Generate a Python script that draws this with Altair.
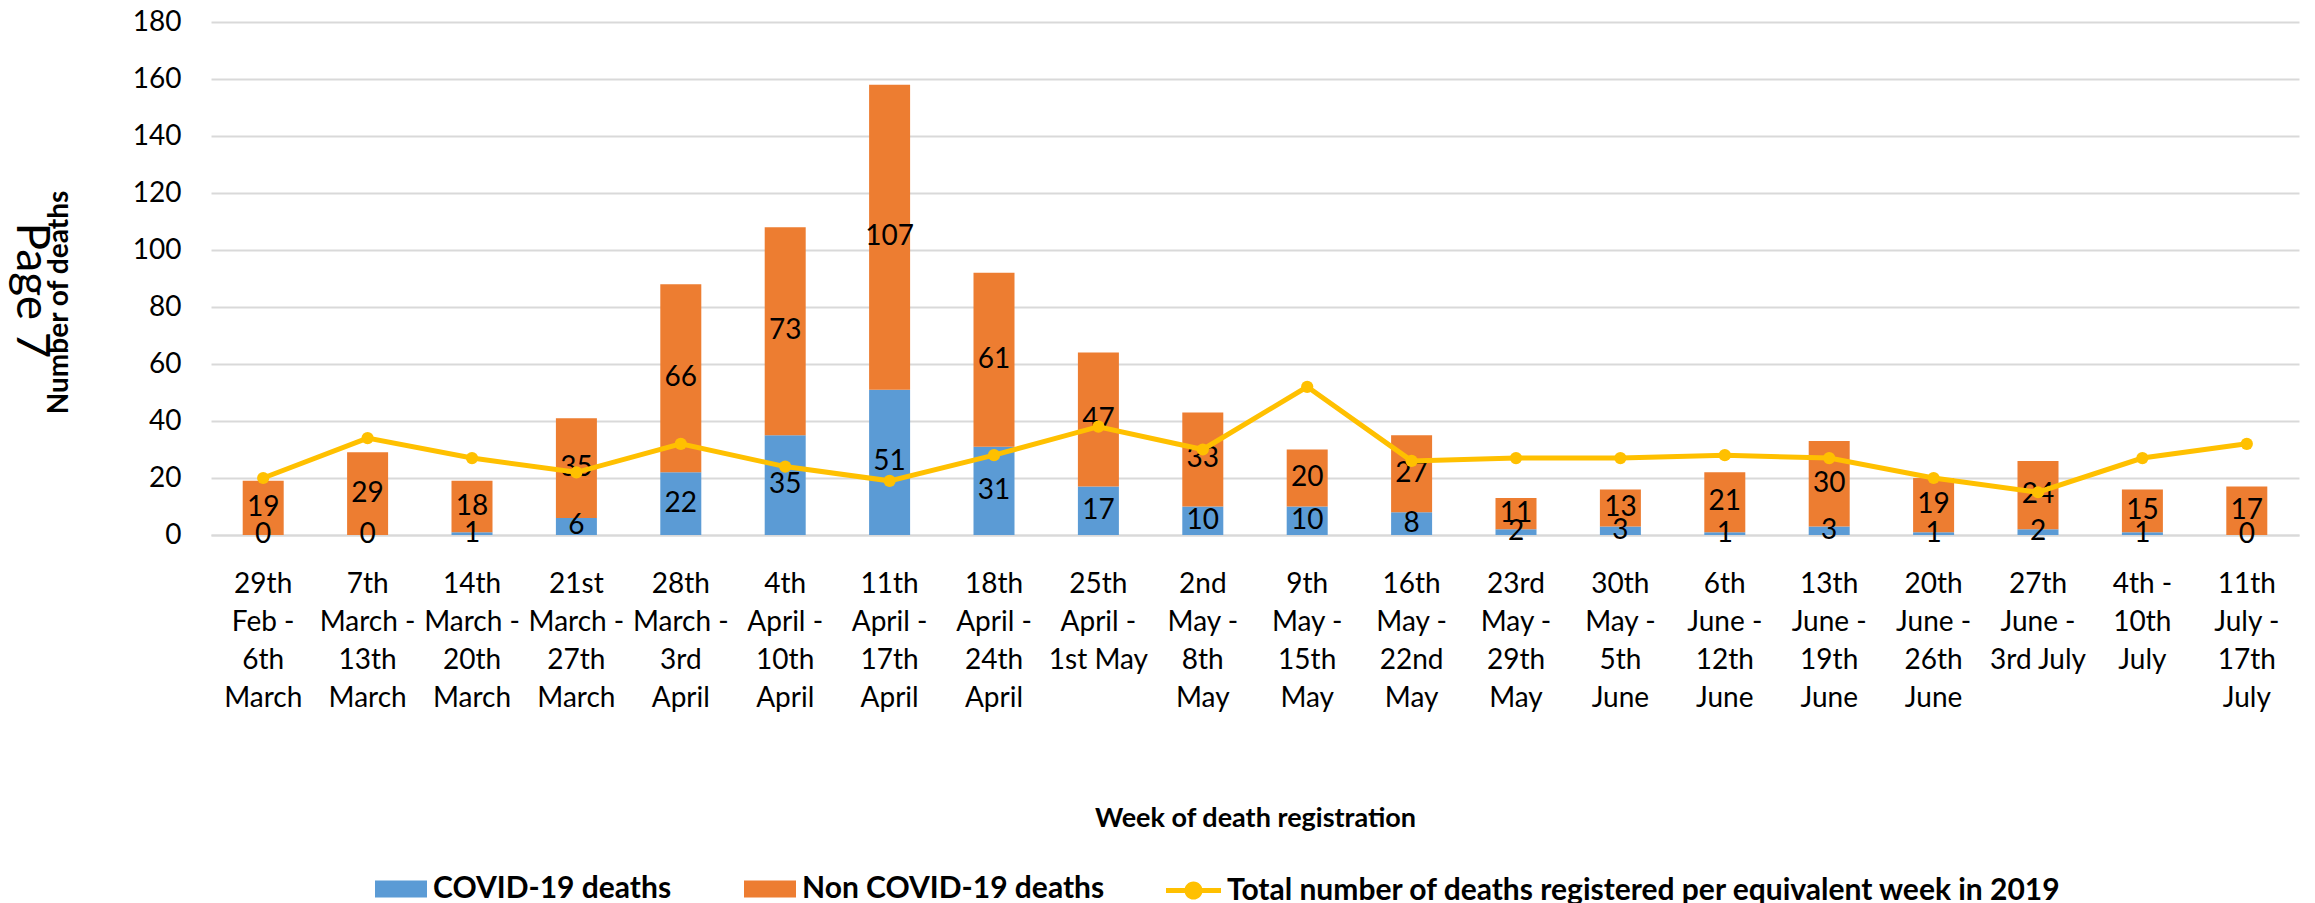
import altair as alt
import pandas as pd

weeks = [
    "29th\nFeb -\n6th\nMarch", "7th\nMarch -\n13th\nMarch", "14th\nMarch -\n20th\nMarch",
    "21st\nMarch -\n27th\nMarch", "28th\nMarch -\n3rd\nApril", "4th\nApril -\n10th\nApril",
    "11th\nApril -\n17th\nApril", "18th\nApril -\n24th\nApril", "25th\nApril -\n1st May",
    "2nd\nMay -\n8th\nMay", "9th\nMay -\n15th\nMay", "16th\nMay -\n22nd\nMay",
    "23rd\nMay -\n29th\nMay", "30th\nMay -\n5th\nJune", "6th\nJune -\n12th\nJune",
    "13th\nJune -\n19th\nJune", "20th\nJune -\n26th\nJune", "27th\nJune -\n3rd July",
    "4th -\n10th\nJuly", "11th\nJuly -\n17th\nJuly",
]
covid = [0, 0, 1, 6, 22, 35, 51, 31, 17, 10, 10, 8, 2, 3, 1, 3, 1, 2, 1, 0]
non_covid = [19, 29, 18, 35, 66, 73, 107, 61, 47, 33, 20, 27, 11, 13, 21, 30, 19, 24, 15, 17]
deaths_2019 = [20, 34, 27, 22, 32, 24, 19, 28, 38, 30, 52, 26, 27, 27, 28, 27, 20, 15, 27, 32]

S_COVID = "COVID-19 deaths"
S_NON = "Non COVID-19 deaths"
S_2019 = "Total number of deaths registered per equivalent week in 2019"

FONT = "Lato, sans-serif"

rows = []
for i, w in enumerate(weeks):
    rows.append({"week": w, "series": S_COVID, "ord": 0, "value": covid[i],
                 "mid": covid[i] / 2})
    rows.append({"week": w, "series": S_NON, "ord": 1, "value": non_covid[i],
                 "mid": covid[i] + non_covid[i] / 2})
bars_df = pd.DataFrame(rows)
line_df = pd.DataFrame({"week": weeks, "v2019": deaths_2019, "lname": [S_2019] * len(weeks)})

x_enc = alt.X(
    "week:N", sort=weeks,
    scale=alt.Scale(paddingInner=0.6, paddingOuter=0.3),
    axis=alt.Axis(
        title="Week of death registration", labelAngle=0, ticks=False,
        labelExpr="split(datum.label, '\\n')", labelLineHeight=38,
        labelFontSize=28, labelPadding=35, labelColor="black",
        titleFontSize=27, titleFontWeight="bold", titlePadding=93, titleColor="black",
        domainColor="#D9D9D9", domainWidth=2, labelFont=FONT, titleFont=FONT,
    ),
)

y_scale = alt.Scale(domain=[0, 180], nice=False)

bar_symbol = "M-1,-0.33 H1 V0.33 H-1 Z"
line_symbol = ("M-1,-0.09 H1 V0.09 H-1 Z "
               "M0.33,0 A0.33,0.33 0 1,1 -0.33,0 A0.33,0.33 0 1,1 0.33,0 Z")

bars = alt.Chart(bars_df).mark_bar(size=41).encode(
    x=x_enc,
    y=alt.Y("value:Q", stack="zero", scale=y_scale,
            axis=alt.Axis(title="Number of deaths", values=list(range(0, 181, 20)),
                          grid=True, gridColor="#D9D9D9", gridWidth=2, domain=False,
                          ticks=False, labelFontSize=28, labelPadding=30, labelColor="black",
                          titleFontSize=28, titleFontWeight="bold", titlePadding=59,
                          titleColor="black", labelFont=FONT, titleFont=FONT, titleY=280)),
    color=alt.Color("series:N", scale=alt.Scale(domain=[S_COVID, S_NON],
                                                range=["#5B9BD5", "#ED7D31"]),
                    legend=alt.Legend(title=None, orient="none", legendX=164, legendY=841,
                                      direction="horizontal", symbolType=bar_symbol,
                                      symbolSize=2704, labelFontSize=30, labelFontWeight="bold",
                                      labelFont=FONT, labelColor="black", columnPadding=72,
                                      labelOffset=6, padding=0, symbolStrokeWidth=0,
                                      symbolOpacity=1)),
    order=alt.Order("ord:Q", sort="ascending"),
)

labels = alt.Chart(bars_df).mark_text(fontSize=28, color="black", font=FONT,
                                      baseline="middle").encode(
    x=alt.X("week:N", sort=weeks),
    y=alt.Y("mid:Q", scale=y_scale),
    text=alt.Text("value:Q"),
)

line = alt.Chart(line_df).mark_line(color="#FFC000", strokeWidth=5).encode(
    x=alt.X("week:N", sort=weeks),
    y=alt.Y("v2019:Q", scale=y_scale),
)

points = alt.Chart(line_df).mark_circle(size=150, opacity=1).encode(
    x=alt.X("week:N", sort=weeks),
    y=alt.Y("v2019:Q", scale=y_scale),
    color=alt.Color("lname:N", scale=alt.Scale(domain=[S_2019], range=["#FFC000"]),
                    legend=alt.Legend(title=None, orient="none", legendX=955, legendY=841,
                                      symbolType=line_symbol, symbolSize=3025,
                                      labelFontSize=30, labelFontWeight="bold",
                                      labelFont=FONT, labelColor="black", labelOffset=6,
                                      padding=0, symbolStrokeWidth=0, symbolOpacity=1)),
)

chart = alt.layer(bars, labels, line, points).resolve_scale(color="independent").properties(
    width=2088, height=513,
    padding={"left": 0, "top": 0, "right": 5, "bottom": 0},
    title=alt.TitleParams("Page 7", orient="left", angle=90, fontSize=46,
                          fontWeight="normal", font=FONT, color="black", offset=-54, dx=12),
).configure_view(stroke=None).configure_legend(
    labelLimit=1200,
)

chart.save("out.html", embed_options={"renderer": "svg", "actions": False})
